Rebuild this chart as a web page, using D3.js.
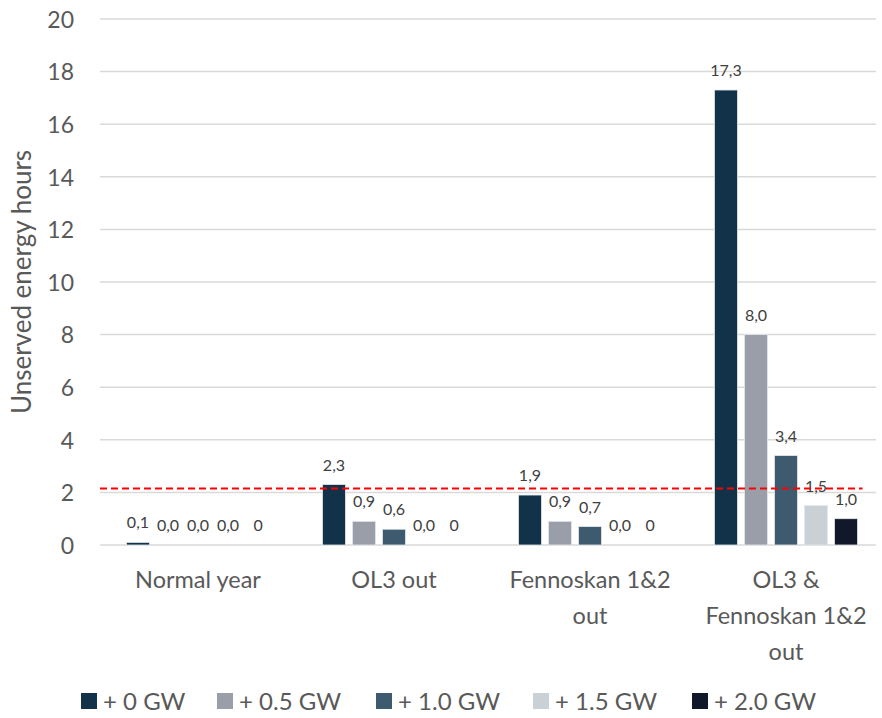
<!DOCTYPE html>
<html>
<head>
<meta charset="utf-8">
<script src="https://cdn.jsdelivr.net/npm/d3@7"></script>
<style>
  html, body { margin: 0; padding: 0; background: #ffffff; }
  svg { display: block; font-family: Lato, "Open Sans", sans-serif; }
</style>
</head>
<body>
<svg id="chart" width="882" height="718"></svg>
<script>
// Scenario categories (lines of each axis label)
const categories = [
  ["Normal year"],
  ["OL3 out"],
  ["Fennoskan 1&2", "out"],
  ["OL3 &", "Fennoskan 1&2", "out"]
];

// Added capacity series
const seriesNames = ["+ 0 GW", "+ 0.5 GW", "+ 1.0 GW", "+ 1.5 GW", "+ 2.0 GW"];
const seriesColors = ["#12324a", "#9a9ea8", "#3e5a6e", "#c9d0d6", "#10182a"];

// Unserved energy hours per scenario, one array per series
const gw00 = [0.1, 2.3, 1.9, 17.3];
const gw05 = [0.0, 0.9, 0.9, 8.0];
const gw10 = [0.0, 0.6, 0.7, 3.4];
const gw15 = [0.0, 0.0, 0.0, 1.5];
const gw20 = [0, 0, 0, 1.0];
const seriesValues = [gw00, gw05, gw10, gw15, gw20];
// The last series prints exact zeros without a decimal
const plainZero = [false, false, false, false, true];

// Reliability threshold (hours)
const threshold = 2.15;

const yTicks = [0, 2, 4, 6, 8, 10, 12, 14, 16, 18, 20];

const svg = d3.select("#chart");
const plot = { left: 100, right: 884, top: 19, bottom: 545 };

const x0 = d3.scaleBand()
  .domain(d3.range(categories.length))
  .range([plot.left, plot.right])
  .paddingInner(0.27)
  .paddingOuter(0.135);

const x1 = d3.scaleBand()
  .domain(d3.range(seriesNames.length))
  .range([0, x0.bandwidth()])
  .paddingInner(0.233);

const y = d3.scaleLinear().domain([0, 20]).range([plot.bottom, plot.top]);

// Gridlines
svg.append("g")
  .selectAll("line")
  .data(yTicks)
  .join("line")
  .attr("x1", plot.left)
  .attr("x2", plot.right - 8)
  .attr("y1", d => y(d))
  .attr("y2", d => y(d))
  .attr("stroke", "#d9d9d9")
  .attr("stroke-width", 1.5);

// Y axis tick labels
const yAxis = d3.axisLeft(y).tickValues(yTicks).tickSize(0).tickPadding(0);
const gy = svg.append("g")
  .attr("transform", `translate(${plot.left - 26},0)`)
  .call(yAxis);
gy.select(".domain").remove();
gy.selectAll("text")
  .attr("fill", "#595959")
  .attr("dy", "0.36em")
  .style("font-size", "23px")
  .style("font-family", "Lato, sans-serif");

// Y axis title
svg.append("text")
  .attr("transform", `translate(31,${(plot.top + plot.bottom) / 2}) rotate(-90)`)
  .attr("text-anchor", "middle")
  .attr("fill", "#595959")
  .style("font-size", "26px")
  .text("Unserved energy hours");

// Bars
const fmt = (v, s) => (plainZero[s] && v === 0) ? "0" : d3.format(".1f")(v).replace(".", ",");

const groups = svg.append("g")
  .selectAll("g")
  .data(categories.map((c, i) => i))
  .join("g")
  .attr("transform", i => `translate(${x0(i)},0)`);

const cells = groups.selectAll("g.cell")
  .data(i => seriesValues.map((vals, s) => ({ s, v: vals[i] })))
  .join("g")
  .attr("class", "cell");

cells.append("rect")
  .attr("x", d => x1(d.s))
  .attr("width", x1.bandwidth())
  .attr("y", d => y(d.v))
  .attr("height", d => y(0) - y(d.v))
  .attr("fill", d => seriesColors[d.s])
  .attr("stroke", "#e4e8ec")
  .attr("stroke-width", d => d.v > 0 ? 0.8 : 0);

cells.append("text")
  .attr("x", d => x1(d.s) + x1.bandwidth() / 2)
  .attr("y", d => y(d.v) - 14)
  .attr("text-anchor", "middle")
  .attr("fill", "#404040")
  .style("font-size", "16px")
  .text(d => fmt(d.v, d.s));

// Threshold line
svg.append("line")
  .attr("x1", plot.left)
  .attr("x2", x0(categories.length - 1) + x1(seriesNames.length - 1) + x1.bandwidth() + 5)
  .attr("y1", y(threshold))
  .attr("y2", y(threshold))
  .attr("stroke", "#ff0000")
  .attr("stroke-width", 2)
  .attr("stroke-dasharray", "7,4");

// Category labels
const catG = svg.append("g")
  .selectAll("text")
  .data(categories)
  .join("text")
  .attr("text-anchor", "middle")
  .attr("fill", "#595959")
  .style("font-size", "23.5px")
  .attr("transform", (d, i) => `translate(${x0(i) + x0.bandwidth() / 2},${plot.bottom + 43})`);
catG.selectAll("tspan")
  .data(d => d)
  .join("tspan")
  .attr("x", 0)
  .attr("dy", (d, j) => j === 0 ? 0 : 36)
  .text(d => d);

// Legend
const legendX = [81, 217, 376, 533, 692];
const leg = svg.append("g")
  .selectAll("g")
  .data(seriesNames)
  .join("g")
  .attr("transform", (d, i) => `translate(${legendX[i]},701)`);
leg.append("rect")
  .attr("x", 0).attr("y", -8)
  .attr("width", 16).attr("height", 16)
  .attr("fill", (d, i) => seriesColors[i]);
leg.append("text")
  .attr("x", 22)
  .attr("y", 9)
  .attr("fill", "#595959")
  .style("font-size", "24px")
  .text(d => d);
</script>
</body>
</html>
